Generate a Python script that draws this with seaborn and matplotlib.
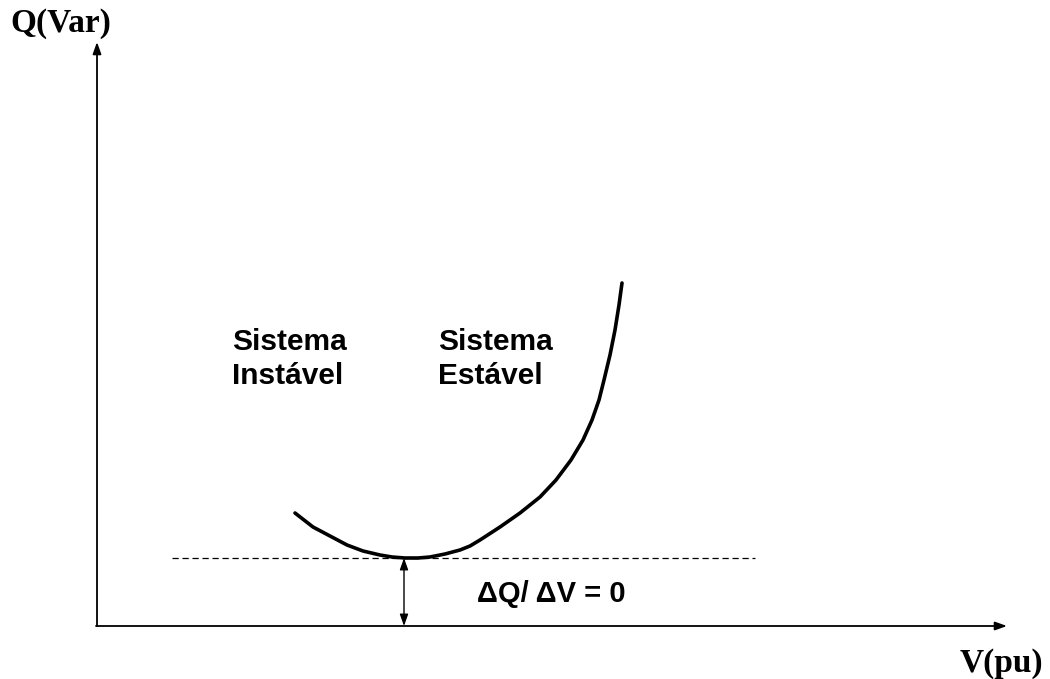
import matplotlib
matplotlib.use("Agg")
import matplotlib.pyplot as plt
import pandas as pd
import seaborn as sb
import numpy as np

# QV curve sketch: V(pu) on x, Q(Var) on y (arbitrary units)

curve_v = [1.98, 2.07, 2.16, 2.33, 2.50, 2.66, 2.83, 2.95, 3.08, 3.21, 3.33,
           3.48, 3.63, 3.73, 3.83, 4.03, 4.23, 4.43, 4.59, 4.74, 4.86, 4.95,
           5.02, 5.07, 5.13, 5.18, 5.22, 5.25]
curve_q = [1.13, 1.06, 0.99, 0.90, 0.81, 0.75, 0.71, 0.69, 0.68, 0.68, 0.69,
           0.72, 0.76, 0.80, 0.86, 0.99, 1.13, 1.29, 1.46, 1.66, 1.86, 2.06,
           2.26, 2.46, 2.71, 2.96, 3.21, 3.43]

qmin_v = [0.75, 6.58]
qmin = 0.68
vmin = 3.07

xaxis_end = 9.10
yaxis_end = 5.84

label_unstable = "Sistema\nInstável"
label_stable = "Sistema\nEstável"
label_deriv = "ΔQ/ ΔV = 0"

sb.set_style("white")
serif = ["Liberation Serif", "DejaVu Serif"]
sans = ["Liberation Sans", "DejaVu Sans"]

fig = plt.figure(figsize=(10.5, 6.79), dpi=100)
ax = fig.add_axes([0, 0, 1, 1])
ax.set_xlim(-0.97, 9.53)
ax.set_ylim(-0.53, 6.26)
ax.axis("off")

df = pd.DataFrame({"V": curve_v, "Q": curve_q})
sb.lineplot(data=df, x="V", y="Q", sort=False, estimator=None,
            color="black", linewidth=2.6, ax=ax)

# dashed line at the minimum
ax.plot(qmin_v, [qmin, qmin], color="black", linewidth=0.9,
        linestyle=(0, (5, 3)))

# axes with arrows
ax.annotate("", xy=(0, yaxis_end), xytext=(0, 0),
            arrowprops=dict(arrowstyle="-|>,head_length=0.7,head_width=0.25",
                            color="black", lw=1.3, shrinkA=0, shrinkB=0))
ax.annotate("", xy=(xaxis_end, 0), xytext=(-0.01, 0),
            arrowprops=dict(arrowstyle="-|>,head_length=0.7,head_width=0.25",
                            color="black", lw=1.3, shrinkA=0, shrinkB=0))

# double arrow dQ/dV = 0
ax.annotate("", xy=(vmin, qmin), xytext=(vmin, 0),
            arrowprops=dict(arrowstyle="<|-|>,head_length=0.7,head_width=0.25",
                            color="black", lw=1.0, shrinkA=0, shrinkB=0))

ax.text(-0.87, 5.94, "Q(Var)", family=serif, fontweight="bold",
        fontsize=24, va="baseline", ha="left", color="black")
ax.text(8.63, -0.46, "V(pu)", family=serif, fontweight="bold",
        fontsize=24, va="baseline", ha="left", color="black")

# baseline of the last line of each label
ax.text(1.35, 2.42, label_unstable, family=sans, fontweight="bold",
        fontsize=21.5, va="baseline", ha="left", linespacing=1.25,
        color="black")
ax.text(3.41, 2.42, label_stable, family=sans, fontweight="bold",
        fontsize=21.5, va="baseline", ha="left", linespacing=1.25,
        color="black")
ax.text(3.80, 0.24, label_deriv, family=sans, fontweight="bold",
        fontsize=21, va="baseline", ha="left", color="black")

plt.savefig("out.png", dpi=100)
